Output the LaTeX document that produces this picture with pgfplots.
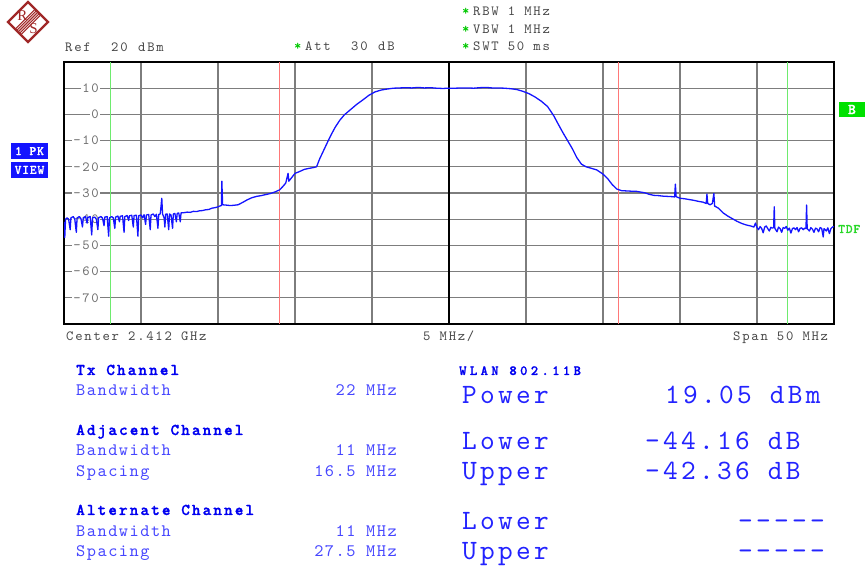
\documentclass[border=0pt]{standalone}
\usepackage{pgfplots}
\pgfplotsset{compat=1.18}
\usepackage{fontspec}
\newfontfamily\monoA{lmmono10-regular.otf}[LetterSpace=12.5, BoldFont=lmmonolt10-bold.otf]
\newfontfamily\monoB{lmmono10-regular.otf}[LetterSpace=11.8]
\newfontfamily\monoC{lmmono10-regular.otf}[LetterSpace=8.6]
\newfontfamily\monoD{lmmonolt10-bold.otf}[LetterSpace=12.4, FakeBold=1.2]
\newfontfamily\monoE{lmmonolt10-bold.otf}[LetterSpace=24, FakeBold=1.2]
\newfontfamily\monoG{lmmonolt10-bold.otf}[LetterSpace=6, FakeBold=1]
\newfontfamily\serifF{Liberation Serif}
\newcommand\smf{\monoA\fontsize{14}{15}\selectfont}
\newcommand\bigf{\monoB\fontsize{28}{30}\selectfont}
\newcommand\midf{\monoC\fontsize{17.5}{19}\selectfont}
\newcommand\hdf{\monoD\fontsize{16.5}{18}\selectfont}
\newcommand\wlf{\monoE\fontsize{14}{16}\selectfont}
\newcommand\boxf{\monoG\fontsize{13}{13}\selectfont}
\definecolor{gridgray}{RGB}{125,125,125}
\definecolor{ticgray}{RGB}{110,110,110}
\definecolor{txtgray}{RGB}{70,70,70}
\definecolor{traceblue}{RGB}{20,20,255}
\definecolor{redm}{RGB}{255,120,120}
\definecolor{greenm}{RGB}{110,235,110}
\definecolor{hblue}{RGB}{0,0,240}
\definecolor{lblue}{RGB}{70,70,255}
\definecolor{bblue}{RGB}{35,35,255}
\definecolor{boxblue}{RGB}{20,20,255}
\definecolor{boxgreen}{RGB}{0,225,0}
\definecolor{tdfgreen}{RGB}{40,215,40}
\definecolor{star}{RGB}{0,200,0}
\definecolor{rsred}{RGB}{160,40,40}
\begin{document}
\begin{tikzpicture}[x=1pt,y=1pt]
% axis
\begin{axis}[
  set layers,
  at={(64pt,246pt)}, anchor=south west,
  scale only axis, width=770pt, height=262pt,
  xmin=-25, xmax=25, ymin=-80, ymax=20,
  xtick={-20,-15,-10,-5,5,10,15,20}, xticklabels={},
  extra x ticks={0}, extra x tick labels={},
  extra x tick style={major grid style={black, line width=1.8pt}},
  ytick={-70,-60,...,10},
  yticklabels={-70,-60,-50,-40,-30,-20,-10,0,10},
  major tick length=0pt,
  grid=major, major grid style={gridgray, line width=1.3pt},
  axis line style={black, line width=2pt},
  yticklabel style={anchor=east, xshift=36pt, fill=white, inner sep=1pt, text=ticgray, font=\smf},
]
\addplot[greenm, line width=1.2pt] coordinates {(-22,-80)(-22,20)};
\addplot[greenm, line width=1.2pt] coordinates {(22,-80)(22,20)};
\addplot[redm, line width=1.2pt] coordinates {(-11,-80)(-11,20)};
\addplot[redm, line width=1.2pt] coordinates {(11,-80)(11,20)};
\addplot[traceblue, line width=1.3pt, line join=round] coordinates {
(-25,-41)(-24.95,-47)(-24.9,-40)(-24.8,-39.5)(-24.7,-40)(-24.6,-44)(-24.55,-39.5)(-24.4,-39)(-24.3,-40)(-24.2,-45)(-24.15,-39.5)(-24,-39)(-23.9,-39.8)(-23.8,-43)(-23.75,-39.4)(-23.6,-39)(-23.5,-41.5)(-23.45,-39.3)(-23.3,-39)(-23.2,-46)(-23.15,-39.5)(-23,-39.2)(-22.9,-40)(-22.8,-44)(-22.75,-39.4)(-22.6,-39)(-22.5,-39.6)(-22.4,-42.5)(-22.35,-39.2)(-22.2,-39)(-22.1,-46.5)(-22.05,-39.5)(-21.9,-39)(-21.8,-39.5)(-21.7,-43.5)(-21.65,-39.2)(-21.5,-38.8)(-21.4,-41)(-21.35,-38.9)(-21.2,-38.7)(-21.1,-45)(-21.05,-39)(-20.9,-38.6)(-20.8,-40.5)(-20.75,-38.7)(-20.6,-38.5)(-20.5,-43)(-20.45,-38.6)(-20.3,-38.5)(-20.2,-46.5)(-20.15,-38.7)(-20,-38.4)(-19.9,-39.5)(-19.8,-38.3)(-19.7,-42)(-19.65,-38.4)(-19.5,-38.2)(-19.4,-44)(-19.35,-38.4)(-19.2,-38)(-19.1,-39)(-19.0,-38.1)(-18.9,-43.5)(-18.85,-38.2)(-18.75,-38)(-18.65,-32)(-18.6,-38)(-18.5,-39.5)(-18.45,-43)(-18.4,-38.1)(-18.3,-38)(-18.2,-44)(-18.15,-38)(-18.05,-38.4)(-17.95,-43.5)(-17.9,-38)(-17.8,-37.8)(-17.7,-41)(-17.65,-37.8)(-17.55,-37.6)(-17.45,-41)(-17.4,-37.6)(-17.2,-37.5)(-17,-37.3)(-16.8,-37.4)(-16.6,-37)(-16.4,-37.1)(-16.2,-36.8)(-16,-36.7)(-15.8,-36.4)(-15.6,-36.3)(-15.4,-35.8)(-15.2,-35.6)(-15,-35.3)(-14.9,-35)(-14.78,-34.8)(-14.75,-25.5)(-14.7,-34.5)(-14.5,-34.6)(-14.2,-34.8)(-14,-34.7)(-13.7,-34.5)(-13.4,-33.6)(-13.1,-32.6)(-12.8,-31.8)(-12.5,-31.3)(-12.2,-31)(-11.9,-30.6)(-11.6,-30.2)(-11.3,-29.6)(-11,-28.8)(-10.8,-27.6)(-10.6,-26.2)(-10.45,-22.5)(-10.4,-25.5)(-10.2,-24)(-10,-22.5)(-9.7,-21.8)(-9.4,-21)(-9.1,-20.6)(-8.8,-20.3)(-8.6,-20)(-8.4,-17)(-8.2,-14.5)(-8.0,-12)(-7.8,-9.5)(-7.6,-7.2)(-7.4,-5)(-7.1,-2.3)(-6.8,-0.2)(-6.4,1.8)(-6.0,3.8)(-5.6,5.5)(-5.2,7.3)(-4.8,8.6)(-4.4,9.3)(-4.0,9.7)(-3.6,10)(-3.2,10.1)(-2.8,10.2)(-2.4,10.1)(-2.0,10.3)(-1.6,10.1)(-1.2,10.2)(-0.8,10.0)(-0.4,9.9)(0,10)(0.4,10)(0.8,10.1)(1.2,10.1)(1.6,10.0)(2,10.2)(2.4,10.3)(2.8,10.1)(3.2,10.1)(3.6,10)(4.0,9.8)(4.4,9.5)(4.8,8.8)(5.2,7.9)(5.6,6.6)(6.0,5.0)(6.4,3.0)(6.8,-0.5)(7.1,-3.8)(7.4,-7)(7.7,-10)(8.0,-13)(8.3,-16.5)(8.6,-19)(8.9,-20)(9.2,-20.5)(9.6,-21.2)(10,-22.8)(10.3,-24.5)(10.6,-26.8)(10.9,-28.5)(11.2,-29.1)(11.5,-29.2)(11.8,-29.3)(12.1,-29.3)(12.4,-29.6)(12.7,-29.9)(13.0,-30.5)(13.3,-30.9)(13.6,-31)(13.9,-31.2)(14.2,-31.3)(14.5,-31.4)(14.65,-31.5)(14.7,-26.6)(14.75,-31.4)(15.0,-32)(15.3,-32.2)(15.6,-32.5)(15.9,-32.8)(16.2,-33.2)(16.5,-33.5)(16.7,-34)(16.75,-30.4)(16.8,-34)(16.95,-34.5)(17.1,-34)(17.2,-30.2)(17.25,-35)(17.5,-35.8)(17.8,-37.6)(18.1,-38.8)(18.4,-39.8)(18.7,-40.8)(19.0,-41.6)(19.3,-42.2)(19.6,-42.6)(19.8,-43)(19.9,-41.5)(20,-43.2)(20.1,-44)(20.2,-42.8)(20.3,-43.5)(20.4,-45.2)(20.5,-43)(20.6,-42.6)(20.7,-43.6)(20.8,-44.5)(20.9,-43.1)(21.0,-43.4)(21.08,-43.2)(21.12,-35.3)(21.16,-43.5)(21.3,-44.8)(21.4,-43)(21.5,-43.6)(21.6,-45)(21.7,-43.2)(21.8,-43.5)(21.9,-42.8)(22.0,-44.2)(22.1,-43.4)(22.2,-45.3)(22.3,-43.6)(22.4,-43.3)(22.5,-44)(22.6,-43.2)(22.7,-44.8)(22.8,-43.5)(22.9,-43.3)(23.0,-44)(23.1,-43.4)(23.18,-43.6)(23.22,-34.6)(23.26,-43.6)(23.4,-44.5)(23.5,-43.2)(23.6,-43.8)(23.7,-45)(23.8,-43.4)(23.9,-43.7)(24.0,-44.8)(24.1,-43.2)(24.2,-43.5)(24.3,-46.8)(24.35,-43.6)(24.5,-44.5)(24.6,-43.3)(24.7,-45.5)(24.8,-43.6)(24.9,-43)(25,-42.8)
};
\end{axis}
% logo
\begin{scope}
\clip (28,568)--(48,548)--(28,528)--(8,548)--cycle;
\foreach \o in {-4,-2,0,2,4}{
  \draw[rsred, line width=1.1pt] (16+\o*0.707,536-\o*0.707)--(40+\o*0.707,560-\o*0.707);
}
\end{scope}
\draw[rsred, line width=2.4pt, line join=miter] (28,568)--(48,548)--(28,528)--(8,548)--cycle;
\node[rsred, font=\serifF\fontsize{15}{15}\selectfont] at (22.5,554.5) {R};
\node[rsred, font=\serifF\fontsize{15}{15}\selectfont] at (33.5,541.5) {S};
% header texts
\node[anchor=base west, inner sep=0, text=txtgray, font=\smf] at (65,518) {Ref};
\node[anchor=base west, inner sep=0, text=txtgray, font=\smf] at (111,518) {20};
\node[anchor=base west, inner sep=0, text=txtgray, font=\smf] at (138,518) {dBm};
\node[anchor=base west, inner sep=0, text=star, font=\smf\bfseries] at (294,519) {*};
\node[anchor=base west, inner sep=0, text=txtgray, font=\smf] at (305,519) {Att};
\node[anchor=base west, inner sep=0, text=txtgray, font=\smf] at (351,519) {30};
\node[anchor=base west, inner sep=0, text=txtgray, font=\smf] at (378,519) {dB};
\node[anchor=base west, inner sep=0, text=star, font=\smf\bfseries] at (462,554) {*};
\node[anchor=base west, inner sep=0, text=txtgray, font=\smf] at (473,554) {RBW 1 MHz};
\node[anchor=base west, inner sep=0, text=star, font=\smf\bfseries] at (462,536) {*};
\node[anchor=base west, inner sep=0, text=txtgray, font=\smf] at (473,536) {VBW 1 MHz};
\node[anchor=base west, inner sep=0, text=star, font=\smf\bfseries] at (462,519) {*};
\node[anchor=base west, inner sep=0, text=txtgray, font=\smf] at (473,519) {SWT 50 ms};
% side boxes
\fill[boxblue] (11,411) rectangle (48,427);
\node[text=white, font=\boxf] at (29.5,419) {1 PK};
\fill[boxblue] (11,392) rectangle (48,408);
\node[text=white, font=\boxf] at (29.5,400) {VIEW};
\fill[boxgreen] (839,453) rectangle (865,468);
\node[text=white, font=\monoG\fontsize{15}{15}\selectfont] at (852,460.5) {B};
\node[anchor=base west, inner sep=0, text=tdfgreen, font=\boxf] at (838,337) {TDF};
% bottom axis annotations
\node[anchor=base west, inner sep=0, text=txtgray, font=\smf] at (66,229) {Center 2.412 GHz};
\node[anchor=base west, inner sep=0, text=txtgray, font=\smf] at (423,229) {5 MHz/};
\node[anchor=base west, inner sep=0, text=txtgray, font=\smf] at (733,229) {Span 50 MHz};
% channel table
\node[anchor=base west, inner sep=0, text=hblue, font=\hdf] at (76,195) {Tx Channel};
\node[anchor=base west, inner sep=0, text=lblue, font=\midf] at (76,174) {Bandwidth};
\node[anchor=base east, inner sep=0, text=lblue, font=\midf] at (397,174) {22 MHz};
\node[anchor=base west, inner sep=0, text=hblue, font=\hdf] at (76,135) {Adjacent Channel};
\node[anchor=base west, inner sep=0, text=lblue, font=\midf] at (76,114) {Bandwidth};
\node[anchor=base east, inner sep=0, text=lblue, font=\midf] at (397,114) {11 MHz};
\node[anchor=base west, inner sep=0, text=lblue, font=\midf] at (76,93) {Spacing};
\node[anchor=base east, inner sep=0, text=lblue, font=\midf] at (397,93) {16.5 MHz};
\node[anchor=base west, inner sep=0, text=hblue, font=\hdf] at (76,55) {Alternate Channel};
\node[anchor=base west, inner sep=0, text=lblue, font=\midf] at (76,33) {Bandwidth};
\node[anchor=base east, inner sep=0, text=lblue, font=\midf] at (397,33) {11 MHz};
\node[anchor=base west, inner sep=0, text=lblue, font=\midf] at (76,13) {Spacing};
\node[anchor=base east, inner sep=0, text=lblue, font=\midf] at (397,13) {27.5 MHz};
% results
\node[anchor=base west, inner sep=0, text=hblue, font=\wlf] at (459,195) {WLAN 802.11B};
\node[anchor=base west, inner sep=0, text=bblue, font=\bigf] at (462,166) {Power};
\node[anchor=base west, inner sep=0, text=bblue, font=\bigf] at (665,166) {19.05 dBm};
\node[anchor=base west, inner sep=0, text=bblue, font=\bigf] at (462,120) {Lower};
\node[anchor=base west, inner sep=0, text=bblue, font=\bigf] at (645,120) {-44.16 dB};
\node[anchor=base west, inner sep=0, text=bblue, font=\bigf] at (462,90) {Upper};
\node[anchor=base west, inner sep=0, text=bblue, font=\bigf] at (645,90) {-42.36 dB};
\node[anchor=base west, inner sep=0, text=bblue, font=\bigf] at (462,40) {Lower};
\node[anchor=base west, inner sep=0, text=bblue, font=\bigf] at (738,40) {-{}-{}-{}-{}-};
\node[anchor=base west, inner sep=0, text=bblue, font=\bigf] at (462,10) {Upper};
\node[anchor=base west, inner sep=0, text=bblue, font=\bigf] at (738,10) {-{}-{}-{}-{}-};
\path (0,0) rectangle (865,570);
\end{tikzpicture}
\end{document}
